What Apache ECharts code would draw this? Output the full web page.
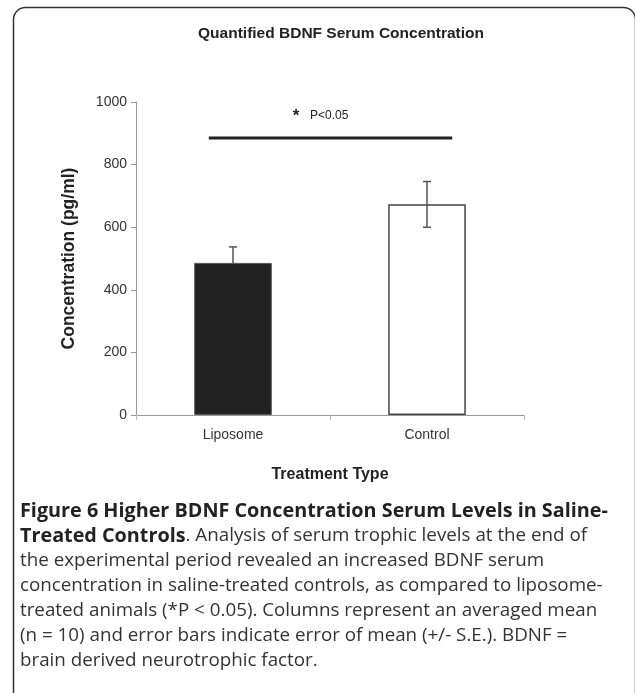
<!DOCTYPE html>
<html>
<head>
<meta charset="utf-8">
<script src="https://cdn.jsdelivr.net/npm/echarts@6/dist/echarts.min.js"></script>
<style>
html,body{margin:0;padding:0;background:#fff;}
#c{width:635px;height:693px;}
</style>
</head>
<body>
<div id="c"></div>
<script>
var categories = ['Liposome', 'Control'];
var means = [486, 673];
var stdErr = [51, 73];
var yTicks = [0, 200, 400, 600, 800, 1000];
var sigLevel = 885;
var sigLabelLevel = 957;
var sigStar = '*';
var sigText = 'P<0.05';
var chartTitle = 'Quantified BDNF Serum Concentration';
var yTitle = 'Concentration (pg/ml)';
var xTitle = 'Treatment Type';
var captionLines = [
  [['b', 'Figure 6 Higher BDNF Concentration Serum Levels in Saline-']],
  [['b', 'Treated Controls'], ['n', '. Analysis of serum trophic levels at the end of']],
  [['n', 'the experimental period revealed an increased BDNF serum']],
  [['n', 'concentration in saline-treated controls, as compared to liposome-']],
  [['n', 'treated animals (*P < 0.05). Columns represent an averaged mean']],
  [['n', '(n = 10) and error bars indicate error of mean (+/- S.E.). BDNF =']],
  [['n', 'brain derived neurotrophic factor.']]
];

var chart = echarts.init(document.getElementById('c'), null, {renderer: 'canvas'});
var F = '"Liberation Sans", Arial, sans-serif';
var CF = '"Open Sans", "Noto Sans", sans-serif';

var captionGraphics = captionLines.map(function (line, i) {
  var txt = line.map(function (seg) {
    return '{' + seg[0] + '|' + seg[1] + '}';
  }).join('');
  return {
    type: 'text',
    left: 20,
    top: 501 + i * 25.1,
    style: {
      text: txt,
      rich: {
        b: {fontFamily: CF, fontWeight: 'bold', fontSize: 19.8, fill: '#222'},
        n: {fontFamily: CF, fontSize: 18.8, fill: '#333'}
      }
    }
  };
});

var option = {
  animation: false,
  backgroundColor: '#fff',
  title: {
    text: chartTitle,
    left: 336, top: 21, textAlign: 'center',
    textStyle: {fontFamily: F, fontWeight: 'bold', fontSize: 15.5, color: '#222'}
  },
  grid: {left: 136, right: 111, top: 102, bottom: 278},
  xAxis: {
    type: 'category',
    data: categories,
    axisLine: {lineStyle: {color: '#999', width: 1}},
    axisTick: {show: true, length: 5, lineStyle: {color: '#bbb'}},
    axisLabel: {fontFamily: F, fontSize: 14, color: '#333', margin: 13},
    name: xTitle,
    nameLocation: 'middle',
    nameGap: 52,
    nameTextStyle: {fontFamily: F, fontWeight: 'bold', fontSize: 16, color: '#222'}
  },
  yAxis: {
    type: 'value',
    min: yTicks[0], max: yTicks[yTicks.length - 1], interval: yTicks[1] - yTicks[0],
    splitLine: {show: false},
    axisLine: {show: true, lineStyle: {color: '#999', width: 1}},
    axisTick: {show: true, length: 5, lineStyle: {color: '#999'}},
    axisLabel: {fontFamily: F, fontSize: 14, color: '#333', margin: 9,
      formatter: function (v) { return String(v); }},
    name: yTitle,
    nameLocation: 'middle',
    nameGap: 58,
    nameTextStyle: {fontFamily: F, fontWeight: 'bold', fontSize: 17.5, color: '#222'}
  },
  series: [
    {
      type: 'custom',
      z: 1,
      data: means.map(function (m, i) { return [i, m, stdErr[i]]; }),
      renderItem: function (params, api) {
        var x = api.value(0), m = api.value(1), e = api.value(2);
        var top = api.coord([x, m + e]);
        var bot = api.coord([x, m - e]);
        var hw = 4;
        var st = {stroke: '#555', lineWidth: 1.5};
        return {
          type: 'group',
          children: [
            {type: 'line', shape: {x1: top[0], y1: top[1], x2: bot[0], y2: bot[1]}, style: st},
            {type: 'line', shape: {x1: top[0] - hw, y1: top[1], x2: top[0] + hw, y2: top[1]}, style: st},
            {type: 'line', shape: {x1: bot[0] - hw, y1: bot[1], x2: bot[0] + hw, y2: bot[1]}, style: st}
          ]
        };
      }
    },
    {
      type: 'bar',
      z: 2,
      barWidth: '40%',
      data: [
        {value: means[0], itemStyle: {color: '#222222', borderColor: '#555', borderWidth: 1}},
        {value: means[1], itemStyle: {color: 'rgba(255,255,255,0)', borderColor: '#444', borderWidth: 1.5}}
      ]
    },
    {
      type: 'custom',
      z: 3,
      data: [[0, sigLevel, 1, sigLabelLevel]],
      renderItem: function (params, api) {
        var a = api.coord([api.value(0), api.value(1)]);
        var b = api.coord([api.value(2), api.value(1)]);
        var bw = api.size([1, 0])[0];
        var ty = api.coord([0, api.value(3)])[1];
        var mid = (a[0] + b[0]) / 2;
        return {
          type: 'group',
          children: [
            {type: 'line', shape: {x1: a[0] - 0.125 * bw, y1: a[1], x2: b[0] + 0.13 * bw, y2: b[1]},
             style: {stroke: '#222', lineWidth: 3}},
            {type: 'text', x: mid - 34, y: ty + 1, style: {text: sigStar, fontFamily: F, fontSize: 17,
             fontWeight: 'bold', fill: '#222', align: 'center', verticalAlign: 'middle'}},
            {type: 'text', x: mid - 20, y: ty, style: {text: sigText, fontFamily: F, fontSize: 12,
             fill: '#222', align: 'left', verticalAlign: 'middle'}}
          ]
        };
      }
    }
  ],
  graphic: [
    {
      type: 'rect', z: 100,
      shape: {x: 13.5, y: 7.5, width: 622, height: 700, r: 12},
      style: {fill: 'none', stroke: '#333', lineWidth: 1.5}
    }
  ].concat(captionGraphics)
};
chart.setOption(option);
</script>
</body>
</html>
